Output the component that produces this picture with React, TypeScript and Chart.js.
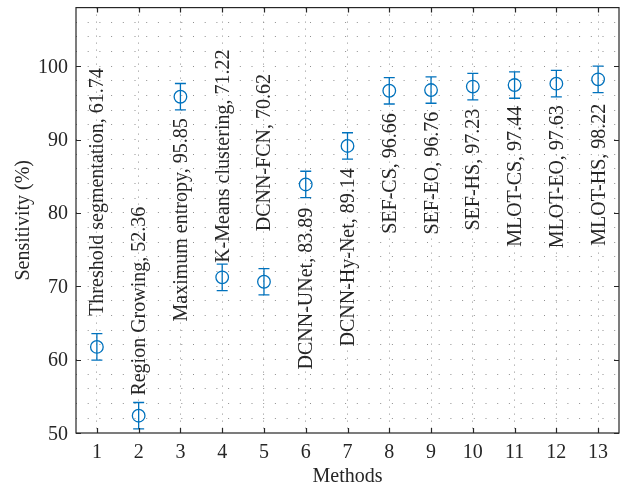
import React, { useEffect, useRef } from 'react';
import { Chart, registerables } from 'chart.js';

Chart.register(...registerables);

// ---- data ----
const methodIds = [1, 2, 3, 4, 5, 6, 7, 8, 9, 10, 11, 12, 13];
const methodNames = [
  'Threshold segmentation',
  'Region Growing',
  'Maximum entropy',
  'K-Means clustering',
  'DCNN-FCN',
  'DCNN-UNet',
  'DCNN-Hy-Net',
  'SEF-CS',
  'SEF-EO',
  'SEF-HS',
  'MLOT-CS',
  'MLOT-EO',
  'MLOT-HS',
];
const sensitivity = [61.74, 52.36, 95.85, 71.22, 70.62, 83.89, 89.14, 96.66, 96.76, 97.23, 97.44, 97.63, 98.22];
const errorAmount = [1.8, 1.8, 1.8, 1.8, 1.8, 1.8, 1.8, 1.8, 1.8, 1.8, 1.8, 1.8, 1.8];
// where each annotation text starts/ends (data units) and whether it sits above or below the marker
const labelAnchor = [65.97, 55.1, 92.9, 73.2, 77.5, 80.7, 86.1, 93.6, 93.8, 94.2, 94.6, 94.7, 94.9];
const labelSide = ['above', 'above', 'below', 'above', 'above', 'below', 'below', 'below', 'below', 'below', 'below', 'below', 'below'];
const yTickLabels = [50, 60, 70, 80, 90, 100];
const yGridValues = [52, 54, 56, 58, 60, 62, 64, 66, 68, 70, 72, 74, 76, 78, 80, 82, 84, 86, 88, 90, 92, 94, 96, 98, 100, 102, 104, 106];
const xTitle = 'Methods';
const yTitle = 'Sensitivity (%)';

const BLUE = '#0072BD';
const AXIS = '#262626';
const GRID = '#8f8f8f';
const FONT = '20px "Liberation Serif", "Times New Roman", serif';

const decorPlugin = {
  id: 'decor',
  afterDraw(chart: any) {
    const { ctx, chartArea } = chart;
    const xs = chart.scales.x;
    const ys = chart.scales.y;
    const { left, right, top, bottom } = chartArea;
    ctx.save();

    // error bars
    ctx.strokeStyle = BLUE;
    ctx.lineWidth = 1.3;
    const cap = 5.5;
    sensitivity.forEach((v, i) => {
      const px = xs.getPixelForValue(methodIds[i]);
      const yHi = ys.getPixelForValue(v + errorAmount[i]);
      const yLo = ys.getPixelForValue(v - errorAmount[i]);
      ctx.beginPath();
      ctx.moveTo(px, yHi);
      ctx.lineTo(px, yLo);
      ctx.moveTo(px - cap, yHi);
      ctx.lineTo(px + cap, yHi);
      ctx.moveTo(px - cap, yLo);
      ctx.lineTo(px + cap, yLo);
      ctx.stroke();
    });

    // box
    ctx.strokeStyle = AXIS;
    ctx.lineWidth = 1.2;
    ctx.strokeRect(left, top, right - left, bottom - top);

    // inward ticks
    const tl = 5;
    ctx.beginPath();
    methodIds.forEach((m) => {
      const px = Math.round(xs.getPixelForValue(m)) + 0.5;
      ctx.moveTo(px, bottom);
      ctx.lineTo(px, bottom - tl);
      ctx.moveTo(px, top);
      ctx.lineTo(px, top + tl);
    });
    yTickLabels.forEach((t) => {
      const py = Math.round(ys.getPixelForValue(t)) + 0.5;
      ctx.moveTo(left, py);
      ctx.lineTo(left + tl, py);
      ctx.moveTo(right, py);
      ctx.lineTo(right - tl, py);
    });
    ctx.stroke();

    // tick labels
    ctx.fillStyle = AXIS;
    ctx.font = FONT;
    ctx.textBaseline = 'alphabetic';
    ctx.textAlign = 'center';
    methodIds.forEach((m) => {
      ctx.fillText(String(m), xs.getPixelForValue(m), bottom + 25);
    });
    ctx.textAlign = 'right';
    yTickLabels.forEach((t) => {
      ctx.fillText(String(t), left - 8, ys.getPixelForValue(t) + 6.5);
    });

    // axis titles
    ctx.textAlign = 'center';
    ctx.fillText(xTitle, (left + right) / 2, bottom + 49);
    ctx.save();
    ctx.translate(29, (top + bottom) / 2);
    ctx.rotate(-Math.PI / 2);
    ctx.fillText(yTitle, 0, 0);
    ctx.restore();

    // point annotations
    methodNames.forEach((name, i) => {
      const px = xs.getPixelForValue(methodIds[i]);
      const py = ys.getPixelForValue(labelAnchor[i]);
      ctx.save();
      ctx.translate(px + 6.5, py);
      ctx.rotate(-Math.PI / 2);
      ctx.textAlign = labelSide[i] === 'above' ? 'left' : 'right';
      ctx.textBaseline = 'alphabetic';
      ctx.fillText(`${name}, ${sensitivity[i].toFixed(2)}`, 0, 0);
      ctx.restore();
    });

    ctx.restore();
  },
};

export default function App() {
  const ref = useRef<HTMLCanvasElement>(null);
  useEffect(() => {
    document.body.style.margin = '0';
    const chart = new Chart(ref.current as HTMLCanvasElement, {
      type: 'scatter',
      data: {
        datasets: [
          {
            data: methodIds.map((m, i) => ({ x: m, y: sensitivity[i] })),
            pointRadius: 6.3,
            pointHoverRadius: 6.3,
            pointBorderWidth: 1.3,
            pointBorderColor: BLUE,
            pointBackgroundColor: 'rgba(0,0,0,0)',
            showLine: false,
          },
        ],
      },
      options: {
        responsive: false,
        animation: false,
        devicePixelRatio: 1,
        events: [],
        layout: { padding: { left: 76, top: 6, right: 13, bottom: 56 } },
        plugins: { legend: { display: false }, tooltip: { enabled: false } },
        scales: {
          x: {
            type: 'linear',
            min: 0.5,
            max: 13.5,
            afterBuildTicks: (s: any) => {
              s.ticks = methodIds.map((v) => ({ value: v }));
            },
            ticks: { display: false },
            grid: { drawTicks: false, color: GRID, lineWidth: 1 },
            border: { display: false, dash: [1, 6] },
          },
          y: {
            type: 'linear',
            min: 50,
            max: 108,
            afterBuildTicks: (s: any) => {
              s.ticks = yGridValues.map((v) => ({ value: v }));
            },
            ticks: { display: false },
            grid: { drawTicks: false, color: GRID, lineWidth: 1 },
            border: { display: false, dash: [1, 10.7] },
          },
        },
      },
      plugins: [decorPlugin],
    });
    return () => chart.destroy();
  }, []);
  return (
    <canvas
      ref={ref}
      width={632}
      height={489}
      style={{ display: 'block', width: 632, height: 489 }}
    />
  );
}
